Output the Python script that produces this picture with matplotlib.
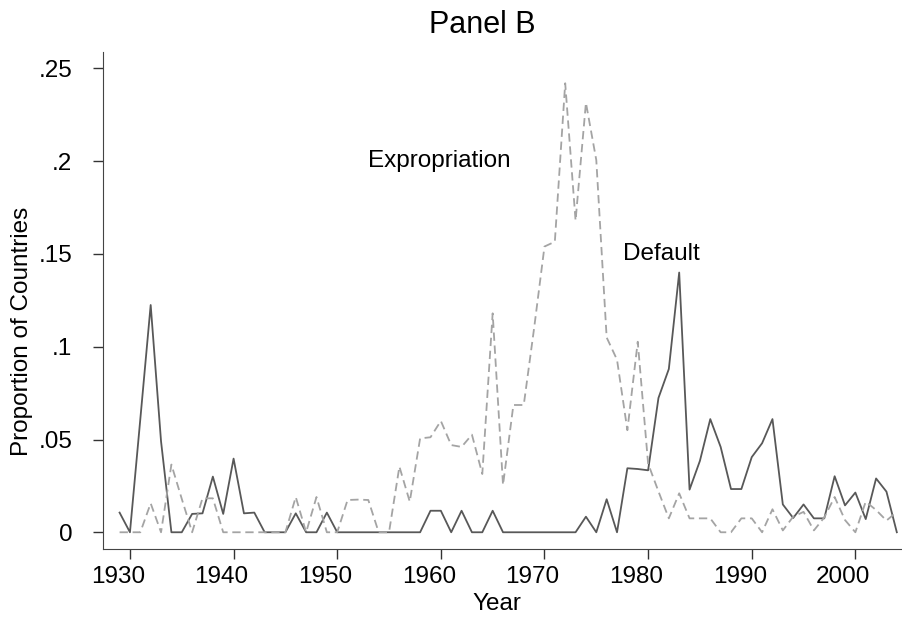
import matplotlib
matplotlib.use("Agg")
import matplotlib.pyplot as plt
from matplotlib.transforms import ScaledTranslation

plt.rcParams['font.family'] = ['Liberation Sans', 'DejaVu Sans']

# data
years = list(range(1929, 2005))

default = [0.0106, 0, 0.061, 0.1225, 0.049, 0, 0, 0.0099, 0.0102, 0.030,
           0.0099, 0.0397, 0.0102, 0.0106, 0, 0, 0, 0.0102, 0, 0,
           0.0106, 0, 0, 0, 0, 0, 0, 0, 0, 0,
           0.0116, 0.0116, 0, 0.0116, 0, 0, 0.0116, 0, 0, 0,
           0, 0, 0, 0, 0, 0.0084, 0, 0.0178, 0, 0.0345,
           0.0341, 0.0334, 0.0724, 0.088, 0.140, 0.0230, 0.0385, 0.0610, 0.0460, 0.0233,
           0.0233, 0.0405, 0.0480, 0.0610, 0.0150, 0.0077, 0.0150, 0.0075, 0.0075, 0.0302,
           0.0145, 0.0214, 0.0071, 0.0290, 0.0219, 0]

expropriation = [0, 0, 0, 0.0156, 0, 0.0365, 0.018, 0, 0.0183, 0.0183,
                 0, 0, 0, 0, 0, 0, 0, 0.019, 0, 0.019,
                 0, 0, 0.0174, 0.0176, 0.0174, 0, 0, 0.0354, 0.0165, 0.0506,
                 0.0512, 0.060, 0.047, 0.046, 0.0526, 0.0314, 0.118, 0.0255, 0.0686, 0.0686,
                 0.110, 0.154, 0.1566, 0.242, 0.168, 0.2315, 0.2006, 0.105, 0.093, 0.055,
                 0.1027, 0.037, 0.022, 0.0075, 0.021, 0.0075, 0.0075, 0.0075, 0, 0,
                 0.0075, 0.0075, 0, 0.0124, 0.001, 0.0084, 0.011, 0.001, 0.008, 0.019,
                 0.0066, 0, 0.0165, 0.012, 0.0063, 0.011]

xticks = [1930, 1940, 1950, 1960, 1970, 1980, 1990, 2000]
yticks = [0, 0.05, 0.1, 0.15, 0.2, 0.25]
ytick_labels = ['0', '.05', '.1', '.15', '.2', '.25']

fig = plt.figure(figsize=(9.02, 6.18), dpi=100)
ax = fig.add_axes([0.1142, 0.1117, 0.8858, 0.8046])

ax.plot(years, default, color='#585858', linewidth=1.3)
ax.plot(years, expropriation, color='#a4a4a4', linewidth=1.3, dashes=(4.6, 2.6))

ax.set_xlim(1927.4, 2004.5)
ax.set_ylim(-0.009, 0.259)

ax.set_xticks(xticks)
ax.set_yticks(yticks)
ax.set_yticklabels(ytick_labels)
ax.tick_params(axis='x', length=7, width=1, pad=5, labelsize=17.5, color='#333333')
ax.tick_params(axis='y', length=7, width=1, pad=15, labelsize=17.5, color='#333333')

# year labels sit a little left of their ticks in the original
shift = ScaledTranslation(-12 / 100, 0, fig.dpi_scale_trans)
for lab in ax.get_xticklabels():
    lab.set_transform(lab.get_transform() + shift)

# only left and bottom axis lines
ax.spines['top'].set_visible(False)
ax.spines['right'].set_visible(False)
ax.spines['left'].set_color('#444444')
ax.spines['bottom'].set_color('#444444')

ax.set_xlabel('Year', fontsize=17.5)
ax.set_ylabel('Proportion of Countries', fontsize=17.5)
ax.xaxis.set_label_coords(0.493, -0.088)
ax.yaxis.set_label_coords(-0.087, 0.438)

# labels placed on the lines
ax.text(1959.9, 0.2, 'Expropriation', fontsize=17.5, ha='center', va='center')
ax.text(1981.3, 0.15, 'Default', fontsize=17.5, ha='center', va='center')

fig.text(482 / 902, 1 - 25 / 618, 'Panel B', fontsize=22, ha='center', va='center')

fig.savefig('out.png', dpi=100)
